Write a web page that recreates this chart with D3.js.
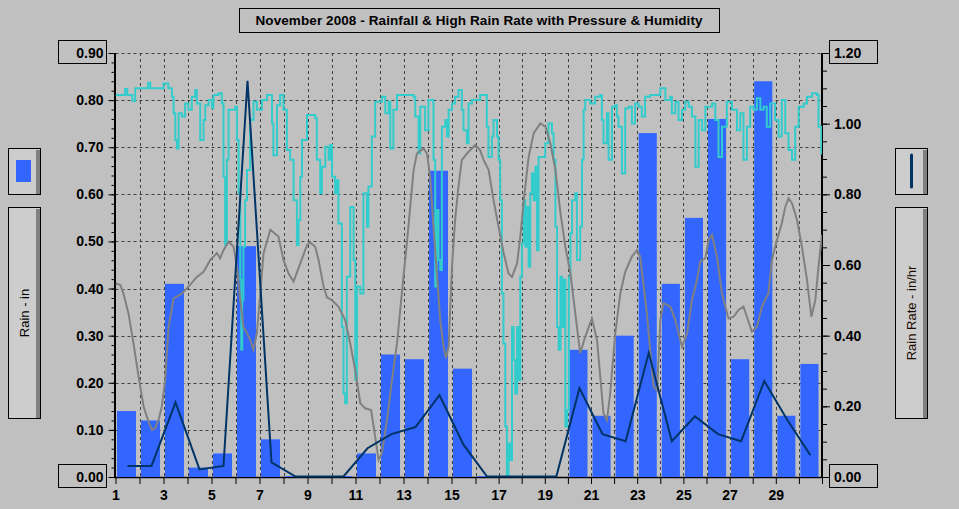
<!DOCTYPE html>
<html>
<head>
<meta charset="utf-8">
<script src="https://cdn.jsdelivr.net/npm/d3@7"></script>
<style>
  html, body { margin: 0; padding: 0; background: #c0c0c0; }
  svg { display: block; font-family: "Liberation Sans", Arial, sans-serif; }
  .axis path { display: none; }
  .axis line { stroke: #000; }
  .axis text { font-size: 14px; font-weight: bold; fill: #000; }
</style>
</head>
<body>
<svg id="chart" width="959" height="509"></svg>
<script>
// DATA ////////////////////////////////////////////////////////////
var titleText = "November 2008 - Rainfall & High Rain Rate with Pressure & Humidity";
var days = d3.range(1, 31);
// daily rainfall (in)
var rainfall = [0.14, 0.12, 0.41, 0.02, 0.05, 0.49, 0.08, 0.002, 0, 0.002,
                0.05, 0.26, 0.25, 0.65, 0.23, 0.002, 0, 0, 0, 0.27,
                0.13, 0.30, 0.73, 0.41, 0.55, 0.76, 0.25, 0.84, 0.13, 0.24];
// daily high rain rate (in/hr)
var rainRate = [0.03, 0.03, 0.21, 0.02, 0.03, 1.12, 0.04, 0, 0, 0,
                0.08, 0.12, 0.14, 0.23, 0.09, 0, 0, 0, 0, 0.25,
                0.12, 0.10, 0.35, 0.10, 0.17, 0.12, 0.10, 0.27, 0.16, 0.06];
// humidity trace (% of chart height), time in days
var humDay = [1.00,1.32,1.40,1.49,1.65,1.70,1.78,1.82,2.32,2.36,2.45,2.95,3.00,3.11,3.20,3.35,3.42,3.49,3.56,3.63,
  3.77,3.90,4.04,4.18,4.32,4.39,4.53,4.67,4.74,4.88,5.02,5.08,5.29,5.43,5.50,5.57,5.64,5.71,5.99,6.06,
  6.13,6.20,6.24,6.28,6.33,6.40,6.48,6.61,6.75,6.89,7.10,7.31,7.45,7.52,7.58,7.73,7.86,8.00,8.14,8.28,
  8.42,8.56,8.63,8.70,8.77,8.98,9.32,9.39,9.53,9.60,9.74,9.88,9.95,10.02,10.15,10.23,10.29,10.43,10.50,10.57,
  10.64,10.78,10.92,10.99,11.06,11.20,11.33,11.48,11.54,11.68,11.82,12.10,12.24,12.38,12.45,12.58,12.73,13.42,13.49,13.63,
  13.70,13.90,14.04,14.18,14.25,14.32,14.39,14.46,14.53,14.60,14.74,14.81,14.88,15.02,15.15,15.29,15.43,15.50,15.64,15.71,
  15.85,16.20,16.42,16.49,16.56,16.71,16.78,16.93,17.00,17.07,17.14,17.21,17.29,17.36,17.43,17.51,17.58,17.65,17.72,17.80,
  17.87,17.94,18.01,18.09,18.16,18.23,18.30,18.37,18.44,18.52,18.59,18.66,18.73,18.88,19.02,19.16,19.31,19.38,19.46,19.53,
  19.60,19.68,19.75,19.82,19.89,19.97,20.04,20.11,20.18,20.32,20.39,20.53,20.61,20.68,20.75,20.97,21.18,21.40,21.47,21.54,
  21.69,21.76,21.91,22.05,22.12,22.19,22.34,22.48,22.63,22.77,22.91,23.06,23.20,23.34,23.56,23.78,24.00,24.22,24.43,24.50,
  24.65,24.79,24.94,25.08,25.23,25.37,25.52,25.66,25.81,25.95,26.24,26.38,26.52,26.67,26.88,27.10,27.32,27.46,27.60,27.75,
  27.89,28.04,28.18,28.33,28.47,28.61,28.76,28.97,29.12,29.26,29.41,29.55,29.70,29.84,29.99,30.21,30.35,30.57,30.78,30.85,
  30.97,31.00];
var humPct = [90.1,90.1,91.5,90.1,90.1,88.7,88.7,91.7,91.7,93.0,91.7,91.7,92.8,92.8,91.7,89.7,85.8,79.5,77.5,85.8,
  85.0,88.1,86.6,89.7,91.3,88.1,79.5,84.2,87.7,88.9,87.0,90.1,90.5,88.1,70.8,54.7,74.8,86.6,87.3,79.5,
  66.9,46.5,30.0,41.7,54.3,65.3,72.4,84.2,88.5,86.6,88.9,90.1,90.1,83.4,75.9,87.7,90.1,86.6,77.1,74.8,
  65.3,54.7,60.6,70.8,79.5,85.4,84.6,74.8,66.9,73.2,77.9,74.8,78.3,70.8,66.9,70.0,59.8,35.4,19.7,17.4,
  47.2,63.7,51.2,22.9,44.9,43.3,66.9,59.0,68.5,80.3,88.5,89.7,85.8,88.5,77.5,86.6,90.1,89.7,85.0,76.3,
  87.3,81.8,88.9,88.9,74.8,44.9,63.0,51.2,48.8,82.6,84.2,80.3,86.6,88.1,89.7,91.3,86.6,81.8,78.7,88.1,
  88.9,90.1,90.1,82.6,75.5,80.3,84.2,80.3,74.8,65.3,43.3,31.5,11.9,0.5,7.9,4.0,35.4,27.6,19.7,35.4,
  22.9,47.2,55.1,65.3,54.3,63.7,49.6,66.9,71.6,65.3,73.2,53.5,75.5,75.5,78.7,83.4,81.1,74.8,59.0,35.4,
  30.0,47.2,35.4,46.5,11.9,15.8,47.2,57.5,65.3,66.9,51.2,59.0,74.8,86.6,88.9,88.1,89.7,90.1,84.2,78.7,
  85.8,74.8,87.3,87.7,85.0,82.6,71.6,86.9,87.3,83.4,88.1,87.3,85.0,89.7,90.1,90.1,91.7,88.9,89.7,85.8,
  88.5,84.2,86.6,88.5,87.3,85.0,73.2,84.2,81.8,87.3,88.1,84.2,75.5,82.6,88.5,86.6,81.8,85.8,74.8,82.6,
  87.3,86.6,89.3,86.6,87.3,82.6,88.1,84.2,80.3,88.9,81.1,77.1,74.8,82.6,87.3,88.1,89.7,90.5,90.1,82.6,
  76.3,80.0];
// pressure trace (% of chart height), time in days
var presDay = [1.00,1.20,1.33,1.54,1.75,1.96,2.17,2.38,2.52,2.65,2.79,2.93,3.07,3.21,3.42,3.77,4.04,4.39,4.67,4.95,
  5.23,5.36,5.50,5.71,5.92,6.06,6.20,6.33,6.48,6.61,6.75,6.89,7.03,7.17,7.45,7.79,8.00,8.21,8.42,8.70,
  8.98,9.11,9.32,9.46,9.67,9.81,10.02,10.29,10.57,10.78,10.99,11.20,11.40,11.65,11.82,11.96,12.10,12.31,12.52,12.73,
  12.93,13.14,13.28,13.42,13.56,13.83,13.98,14.11,14.25,14.39,14.53,14.67,14.77,14.88,15.02,15.15,15.29,15.43,15.71,15.99,
  16.20,16.35,16.57,16.78,17.00,17.22,17.43,17.58,17.80,17.94,18.09,18.30,18.52,18.81,19.03,19.24,19.46,19.68,19.89,20.11,
  20.32,20.53,20.75,21.04,21.26,21.40,21.54,21.69,21.83,22.05,22.27,22.48,22.77,22.99,23.13,23.28,23.42,23.56,23.71,23.86,
  24.00,24.14,24.43,24.65,24.94,25.16,25.37,25.59,25.73,25.95,26.09,26.24,26.45,26.67,26.95,27.17,27.39,27.60,27.75,27.96,
  28.18,28.40,28.68,28.83,29.05,29.26,29.41,29.55,29.70,29.92,30.13,30.35,30.54,30.71,30.85,31.00];
var presPct = [45.7,45.3,43.3,38.6,31.5,23.7,16.6,13.0,11.1,11.5,13.4,16.6,22.9,35.4,42.1,43.3,44.9,47.2,48.4,51.2,
  52.8,51.6,53.5,55.5,54.3,49.6,41.7,35.4,33.9,32.3,30.0,33.9,43.3,52.8,58.3,56.7,51.2,48.0,46.1,50.4,
  54.7,55.3,54.3,51.2,44.9,42.4,41.7,40.2,37.0,31.5,25.2,17.4,16.2,15.8,9.5,4.0,5.6,13.4,22.9,31.5,
  43.3,55.1,63.7,72.4,76.3,77.5,76.3,70.8,59.0,48.0,37.0,30.7,28.0,30.7,49.6,60.6,68.5,74.8,76.7,78.3,
  77.1,74.8,72.4,65.3,59.0,52.8,48.0,47.2,50.4,56.7,65.3,75.5,81.1,83.4,82.6,78.7,72.4,62.2,54.3,48.0,
  38.6,29.2,33.1,37.4,32.3,23.7,15.0,13.4,19.7,33.9,43.3,48.4,52.0,53.5,52.0,44.9,38.6,30.0,21.3,20.5,
  37.0,41.0,40.2,37.0,30.7,33.9,41.7,46.5,50.8,51.6,55.9,57.1,52.0,43.3,37.4,37.8,39.4,40.2,37.8,34.3,
  35.4,40.2,43.3,51.2,55.9,59.8,63.7,65.7,64.6,60.6,54.3,46.5,37.8,41.7,49.6,57.1];
var rainTicks = d3.range(0, 10).map(function(i){ return i / 10; });
var rateTicks = d3.range(0, 7).map(function(i){ return i * 0.2; });
var xLabelDays = [1, 3, 5, 7, 9, 11, 13, 15, 17, 19, 21, 23, 25, 27, 29];

// SETUP ///////////////////////////////////////////////////////////
var colors = { bg: "#c0c0c0", bar: "#3366ff", rate: "#003366", hum: "#33cccc", pres: "#808080", grid: "#404040" };
var svg = d3.select("#chart");
var plot = { left: 115.5, right: 822, top: 53, bottom: 477 };

var x = d3.scaleLinear().domain([1, 16, 31]).range([plot.left, 475.5, plot.right]);
var yRain = d3.scaleLinear().domain([0, 0.9]).range([plot.bottom, plot.top]);
var yRate = d3.scaleLinear().domain([0, 1.2]).range([plot.bottom, plot.top]);
var yPct = d3.scaleLinear().domain([0, 100]).range([plot.bottom, plot.top]);

svg.append("rect").attr("width", 959).attr("height", 509).attr("fill", colors.bg);

// TITLE
svg.append("rect").attr("x", 239.5).attr("y", 8.5).attr("width", 480).attr("height", 24)
  .attr("fill", "none").attr("stroke", "#000");
svg.append("text").attr("x", 479).attr("y", 25).attr("text-anchor", "middle")
  .attr("font-size", 13.5).attr("font-weight", "bold")
  .attr("textLength", 447).attr("lengthAdjust", "spacing").text(titleText);

// GRID
var grid = svg.append("g").attr("stroke", colors.grid).attr("stroke-dasharray", "3,3").attr("stroke-width", 1);
grid.selectAll(".hgrid").data(rainTicks.slice(1)).enter().append("line")
  .attr("x1", plot.left).attr("x2", plot.right)
  .attr("y1", function(d){ return Math.round(yRain(d)) + 0.5; })
  .attr("y2", function(d){ return Math.round(yRain(d)) + 0.5; });
grid.selectAll(".vgrid").data(d3.range(2, 31)).enter().append("line")
  .attr("x1", function(d){ return Math.round(x(d)) + 0.5; })
  .attr("x2", function(d){ return Math.round(x(d)) + 0.5; })
  .attr("y1", plot.top).attr("y2", plot.bottom);

// AXES (drawn before the series so the zero-rate line sits on top)
var leftAxis = svg.append("g").attr("class", "axis").attr("transform", "translate(" + plot.left + ",0)");
leftAxis.call(d3.axisLeft(yRain).tickValues(d3.range(0, 46).map(function(i){ return i * 0.02; }))
  .tickSize(4).tickFormat(""));
leftAxis.append("g").call(d3.axisLeft(yRain).tickValues(rainTicks).tickSize(7).tickPadding(5)
  .tickFormat(d3.format(".2f")));

var rightAxis = svg.append("g").attr("class", "axis").attr("transform", "translate(" + plot.right + ",0)");
rightAxis.call(d3.axisRight(yRate).tickValues(d3.range(0, 25).map(function(i){ return i * 0.05; }))
  .tickSize(5).tickFormat(""));
rightAxis.append("g").call(d3.axisRight(yRate).tickValues(rateTicks).tickSize(8).tickPadding(4)
  .tickFormat(d3.format(".2f")));

var bottomAxis = svg.append("g").attr("class", "axis").attr("transform", "translate(0," + plot.bottom + ")");
bottomAxis.call(d3.axisBottom(x).tickValues(d3.range(1, 32)).tickSize(7).tickPadding(6)
  .tickFormat(function(d){ return xLabelDays.indexOf(d) >= 0 ? d : ""; }));

svg.append("line").attr("x1", plot.left - 0.5).attr("x2", plot.left - 0.5).attr("y1", plot.top).attr("y2", plot.bottom + 1)
  .attr("stroke", "#000").attr("stroke-width", 2);
svg.append("line").attr("x1", plot.right).attr("x2", plot.right).attr("y1", plot.top).attr("y2", plot.bottom + 1)
  .attr("stroke", "#000").attr("stroke-width", 2);
svg.append("line").attr("x1", plot.left - 1.5).attr("x2", plot.right + 1).attr("y1", plot.bottom + 0.5).attr("y2", plot.bottom + 0.5)
  .attr("stroke", "#000").attr("stroke-width", 1.5);

// RAIN BARS
svg.append("g").selectAll("rect").data(days).enter().append("rect")
  .attr("x", function(d){ return x(d) + 1.5; })
  .attr("width", function(d){ return x(d + 1) - x(d) - 5; })
  .attr("y", function(d, i){ return yRain(rainfall[i]); })
  .attr("height", function(d, i){ return plot.bottom - yRain(rainfall[i]); })
  .attr("fill", colors.bar);

// HUMIDITY + PRESSURE TRACES
svg.append("clipPath").attr("id", "plotclip").append("rect")
  .attr("x", plot.left).attr("y", plot.top).attr("width", plot.right - plot.left).attr("height", plot.bottom - plot.top);

var humLine = d3.line().curve(d3.curveStepAfter)
  .x(function(d){ return x(d[0]); }).y(function(d){ return yPct(d[1]); });
svg.append("path").datum(d3.zip(humDay, humPct))
  .attr("d", humLine).attr("fill", "none").attr("stroke", colors.hum).attr("stroke-width", 2)
  .attr("clip-path", "url(#plotclip)");

var presLine = d3.line()
  .x(function(d){ return x(d[0]); }).y(function(d){ return yPct(d[1]); });
svg.append("path").datum(d3.zip(presDay, presPct))
  .attr("d", presLine).attr("fill", "none").attr("stroke", colors.pres).attr("stroke-width", 2)
  .attr("clip-path", "url(#plotclip)");

// RAIN RATE LINE
var rateLine = d3.line()
  .x(function(d){ return x(d + 0.5); })
  .y(function(d, i){ return yRate(rainRate[i]) - 0.5; });
svg.append("path").datum(days)
  .attr("d", rateLine).attr("fill", "none").attr("stroke", colors.rate).attr("stroke-width", 2);

// boxed end labels
[[58.5, yRain(0.9)], [58.5, yRain(0)], [829.5, yRate(1.2)], [829.5, yRate(0)]].forEach(function(b){
  svg.append("rect").attr("x", b[0]).attr("y", Math.round(b[1]) - 12.5).attr("width", 48).attr("height", 23)
    .attr("fill", "none").attr("stroke", "#000");
});

// LEGEND PANELS
function panel(px, py, h){
  svg.append("rect").attr("x", px + 0.5).attr("y", py + 0.5).attr("width", 32).attr("height", h)
    .attr("fill", "#cdcdcd").attr("stroke", "#000");
  svg.append("rect").attr("x", px + 28).attr("y", py + 2).attr("width", 4).attr("height", h - 2)
    .attr("fill", "#808080");
}
panel(8, 148, 46);
panel(8, 207, 211);
panel(895, 148, 46);
panel(895, 207, 211);

svg.append("rect").attr("x", 16).attr("y", 160).attr("width", 15).attr("height", 22).attr("fill", colors.bar);
svg.append("line").attr("x1", 911.5).attr("x2", 911.5).attr("y1", 155).attr("y2", 187)
  .attr("stroke", colors.rate).attr("stroke-width", 3).attr("stroke-linecap", "round");

svg.append("text").attr("transform", "translate(24,313) rotate(-90)")
  .attr("text-anchor", "middle").attr("dominant-baseline", "central")
  .attr("font-size", 13).attr("fill", "#000").text("Rain - in");
svg.append("text").attr("transform", "translate(911.5,313) rotate(-90)")
  .attr("text-anchor", "middle").attr("dominant-baseline", "central")
  .attr("font-size", 13).attr("fill", "#1a0a00").text("Rain Rate - in/hr");
</script>
</body>
</html>
